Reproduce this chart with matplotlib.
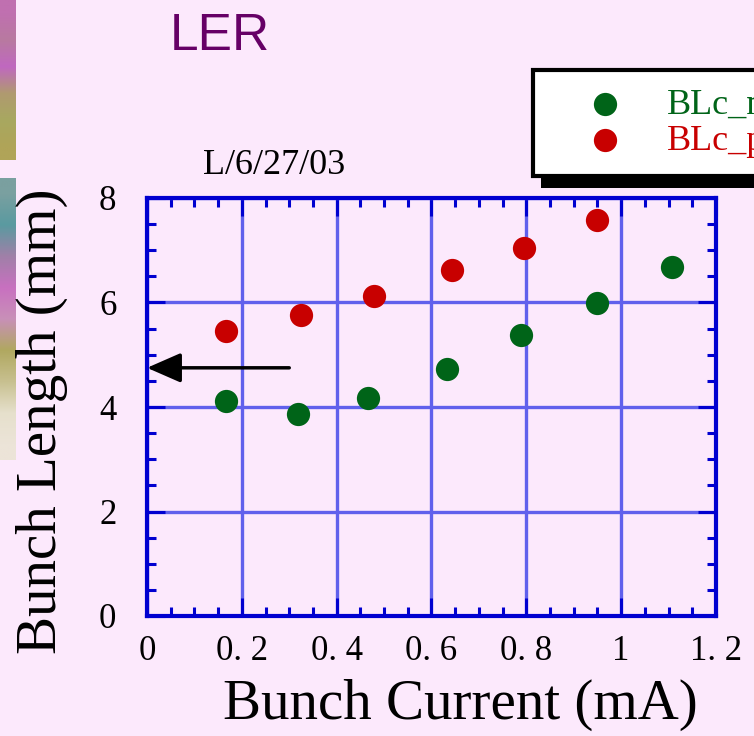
import numpy as np
import matplotlib.pyplot as plt
from matplotlib.patches import Rectangle

# data
cur_n = [0.167, 0.319, 0.466, 0.633, 0.789, 0.949, 1.108]
len_n = [4.11, 3.87, 4.17, 4.73, 5.38, 5.99, 6.68]
cur_p = [0.167, 0.325, 0.479, 0.643, 0.795, 0.949]
len_p = [5.45, 5.76, 6.12, 6.62, 7.04, 7.58]
xticks = [0, 0.2, 0.4, 0.6, 0.8, 1.0, 1.2]
xticklabels = ['0', '0. 2', '0. 4', '0. 6', '0. 8', '1', '1. 2']
yticks = [0, 2, 4, 6, 8]
arrow_from = (0.30, 4.75)
arrow_to = (0.0, 4.75)

bg = '#fce9fc'
blue = '#0000d0'
green = '#006418'
red = '#c80000'
serif = ['Liberation Serif', 'DejaVu Serif']

fig = plt.figure(figsize=(7.54, 7.36), dpi=100, facecolor=bg)

# decorative strip on the left edge
strip_cols = ['#c070b0', '#b87aa0', '#c068c0', '#b09a70', '#a8a860', '#b0a458']
strip_cols2 = ['#7aa0a0', '#5a9aa0', '#a080a8', '#c870c0', '#c890b8',
               '#b0a860', '#c8c090', '#e6e0cc', '#ece4d8']
for cols, (y0, y1) in [(strip_cols, (0, 160)), (strip_cols2, (178, 460))]:
    sax = fig.add_axes([0, 1 - y1 / 736, 16 / 754, (y1 - y0) / 736])
    rgb = np.array([[plt.matplotlib.colors.to_rgb(c)] for c in cols])
    sax.imshow(rgb, aspect='auto', interpolation='bilinear')
    sax.axis('off')

ax = fig.add_axes([147 / 754, 1 - 616 / 736, 569 / 754, 418 / 736])
ax.set_facecolor(bg)

ax.scatter(cur_n, len_n, s=280, color=green, marker='o', lw=0, zorder=3,
           label='BLc_n')
ax.scatter(cur_p, len_p, s=280, color=red, marker='o', lw=0, zorder=3,
           label='BLc_p')

ax.annotate('', xy=arrow_to, xytext=arrow_from,
            arrowprops=dict(arrowstyle='-|>,head_length=0.8,head_width=0.35',
                            color='black', lw=2.5,
                            mutation_scale=26, shrinkA=0, shrinkB=0),
            zorder=4)

ax.set_xlim(0, 1.2)
ax.set_ylim(0, 8)
ax.set_xticks(xticks)
ax.set_xticklabels(xticklabels)
ax.set_yticks(yticks)
ax.set_xticks(np.arange(0, 1.2001, 0.05), minor=True)
ax.set_yticks(np.arange(0, 8.001, 0.5), minor=True)
ax.grid(True, which='major', color='#6060ec', lw=2.4)
ax.set_axisbelow(True)

for s in ax.spines.values():
    s.set_color(blue)
    s.set_linewidth(3)
ax.tick_params(which='both', direction='in', top=True, right=True,
               color=blue, width=2.2)
ax.tick_params(which='major', length=13)
ax.tick_params(which='minor', length=6.5)
ax.tick_params(axis='x', which='major', pad=14)
ax.tick_params(axis='y', which='major', pad=22)
for lab in ax.get_xticklabels() + ax.get_yticklabels():
    lab.set_fontfamily(serif)
    lab.set_fontsize(25)

ax.set_xlabel('Bunch Current (mA)', fontsize=41, family=serif)
ax.xaxis.set_label_coords(0.551, -0.150)
ax.set_ylabel('Bunch Length (mm)', fontsize=41, family=serif)
ax.yaxis.set_label_coords(-0.138, 0.465)

fig.text(170 / 754, 1 - 37 / 736, 'LER', fontsize=37, color='#660066',
         family=['Liberation Sans', 'DejaVu Sans'], ha='left', va='center')
fig.text(274 / 754, 1 - 166 / 736, 'L/6/27/03', fontsize=26, family=serif,
         ha='center', va='center')

handles, labels = ax.get_legend_handles_labels()
leg = fig.legend(handles, labels, loc='upper left',
                 bbox_to_anchor=(533 / 754, 1 - 70 / 736), borderaxespad=0,
                 prop={'family': serif, 'size': 26}, fancybox=False,
                 framealpha=1, edgecolor='black', facecolor='white',
                 handletextpad=0.2, borderpad=0.5, labelspacing=0.08,
                 handlelength=3.0, markerscale=1.0)
leg.get_frame().set_linewidth(3)
for t, c in zip(leg.get_texts(), [green, red]):
    t.set_color(c)
leg.set_zorder(6)

fig.canvas.draw()
bb = leg.get_window_extent()
W, H = fig.bbox.width, fig.bbox.height
fig.patches.append(Rectangle(((bb.x0 + 8) / W, (bb.y0 - 12) / H),
                             bb.width / W, bb.height / H,
                             transform=fig.transFigure, facecolor='black',
                             edgecolor='none', zorder=5))

fig.savefig('out.png', dpi=100, facecolor=bg)
